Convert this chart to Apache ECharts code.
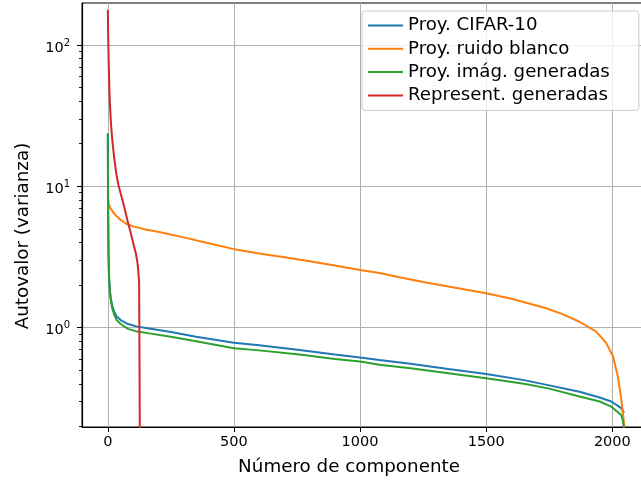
<!DOCTYPE html>
<html><head><meta charset="utf-8">
<script src="https://cdn.jsdelivr.net/npm/echarts@6/dist/echarts.min.js"></script>
<style>html,body{margin:0;padding:0;background:#fff}#c{width:641px;height:482px}</style>
</head><body><div id="c"></div>
<script>
const seriesNames = ['Proy. CIFAR-10', 'Proy. ruido blanco', 'Proy. imág. generadas', 'Represent. generadas'];
const xTicks = [0, 500, 1000, 1500, 2000];
const yMajorTicks = [1, 10, 100];
const yMinorTicks = [0.2,0.3,0.4,0.5,0.6,0.7,0.8,0.9,2,3,4,5,6,7,8,9,20,30,40,50,60,70,80,90];

const cifarX = [0,1,2,3,5,8,12,18,25,35,51,80,117,164,250,350,500,600,760,900,1000,1077,1200,1350,1500,1650,1750,1870,1950,1996,2035,2047];
const cifarY = [23.5,8,4.5,3.2,2.3,1.85,1.6,1.42,1.3,1.2,1.13,1.06,1.016,0.985,0.93,0.86,0.78,0.75,0.695,0.645,0.615,0.59,0.555,0.51,0.47,0.425,0.39,0.352,0.32,0.30,0.269,0.25];

const ruidoX = [0,3,10,25,50,71,100,150,204,300,400,500,600,700,800,900,1000,1077,1156,1250,1350,1500,1600,1738,1800,1870,1936,1976,2003,2022,2036,2043,2047];
const ruidoY = [8.5,7.6,7.0,6.4,5.8,5.45,5.2,4.95,4.75,4.35,3.95,3.59,3.35,3.15,2.95,2.75,2.56,2.43,2.27,2.1,1.95,1.75,1.6,1.37,1.25,1.10,0.937,0.776,0.624,0.45,0.308,0.24,0.2];

const generadasX = [0,1,2,3,5,8,12,18,25,35,51,80,117,164,250,350,500,600,760,900,1000,1077,1200,1350,1500,1650,1750,1870,1950,1996,2035,2042,2047];
const generadasY = [23.7,8,4.5,3.1,2.2,1.8,1.55,1.36,1.24,1.13,1.06,0.98,0.937,0.91,0.86,0.8,0.715,0.69,0.645,0.6,0.575,0.545,0.515,0.475,0.438,0.4,0.37,0.325,0.3,0.276,0.241,0.22,0.19];

const representX = [0,1,2,4,6,9,13,18,25,33,42,50,58,68,78,88,98,104,111,116,120,122,124,125,126,127];
const representY = [177,130,100,70,50,36,27,21,16,12.5,10.2,9.0,8.0,6.8,5.7,4.9,4.15,3.74,3.36,3.0,2.63,2.35,2.1,1.0,0.4,0.15];

const colors = ['#1f77b4', '#ff7f0e', '#2ca02c', '#d62728'];
const FONT = 'DejaVu Sans';

function pairs(xs, ys) { return xs.map((x, i) => [x, ys[i]]); }
const seriesData = [pairs(cifarX, cifarY), pairs(ruidoX, ruidoY), pairs(generadasX, generadasY), pairs(representX, representY)];

const chart = echarts.init(document.getElementById('c'), null, {renderer: 'canvas'});
const yMin = 0.198, yMax = 198, xMin = -102.35, xMax = 2149.35;
const gridLeft = 82, gridRight = -9;
const plotWidth = 641 - gridLeft - gridRight;
chart.setOption({
  animation: false,
  backgroundColor: '#fff',
  color: colors,
  textStyle: {fontFamily: FONT},
  grid: {left: gridLeft, top: 3, right: gridRight, bottom: 55, outerBoundsMode: 'none', containLabel: false,
    show: true, borderColor: '#000', borderWidth: 1, backgroundColor: 'transparent'},
  xAxis: {
    type: 'value', min: xMin, max: xMax,
    axisLine: {show: true, onZero: false, lineStyle: {color: '#000', width: 1.2}},
    axisTick: {show: true, customValues: xTicks, length: 5, lineStyle: {color: '#000', width: 1}},
    axisLabel: {customValues: xTicks, margin: 8, color: '#000', fontSize: 14.5, fontFamily: FONT,
      formatter: function (v) { return String(v); }},
    splitLine: {show: true, lineStyle: {color: '#b0b0b0', width: 1}}
  },
  yAxis: [{
    type: 'log', logBase: 10, min: yMin, max: yMax, position: 'left',
    axisLine: {show: true, onZero: false, lineStyle: {color: '#000', width: 1.2}},
    axisTick: {show: true, customValues: yMajorTicks, length: 5, lineStyle: {color: '#000', width: 1}},
    axisLabel: {
      customValues: yMajorTicks, margin: 12, color: '#000', fontFamily: FONT,
      padding: [6, 0, 0, 0],
      formatter: function (v) { return '{b|10}{s|' + Math.round(Math.log10(v)) + '}'; },
      rich: {
        b: {fontSize: 14.5, lineHeight: 20, fontFamily: FONT, color: '#000'},
        s: {fontSize: 10, lineHeight: 10, verticalAlign: 'top', fontFamily: FONT, color: '#000'}
      }
    },
    splitLine: {show: true, lineStyle: {color: '#b0b0b0', width: 1}}
  }, {
    type: 'log', logBase: 10, min: yMin, max: yMax, position: 'right', offset: -plotWidth,
    axisLine: {show: false, onZero: false},
    axisTick: {show: true, inside: true, customValues: yMinorTicks, length: 3, lineStyle: {color: '#000', width: 0.9}},
    axisLabel: {show: false},
    splitLine: {show: false}
  }],
  legend: {
    orient: 'vertical', left: 362, top: 11,
    data: seriesNames,
    icon: 'rect', itemWidth: 35, itemHeight: 2, itemGap: 3.3,
    padding: [4.5, 29, 5, 6],
    backgroundColor: 'rgba(255,255,255,0.8)', borderColor: '#cccccc', borderWidth: 1, borderRadius: 3,
    textStyle: {fontSize: 18.2, lineHeight: 20, color: '#000', fontFamily: FONT}
  },
  graphic: [
    {type: 'text', x: 349, y: 467, style: {text: 'Número de componente', fontSize: 18.3, fontFamily: FONT, fill: '#000', textAlign: 'center', textVerticalAlign: 'middle'}},
    {type: 'text', rotation: Math.PI / 2, x: 23.5, y: 236, style: {text: 'Autovalor (varianza)', fontSize: 18.3, fontFamily: FONT, fill: '#000', textAlign: 'center', textVerticalAlign: 'middle'}}
  ],
  series: seriesNames.map((name, i) => ({
    name: name, type: 'line', data: seriesData[i], yAxisIndex: 0,
    showSymbol: false, symbol: 'none', clip: true, smooth: false,
    lineStyle: {width: 2, color: colors[i]}, itemStyle: {color: colors[i]}
  }))
});
</script></body></html>
